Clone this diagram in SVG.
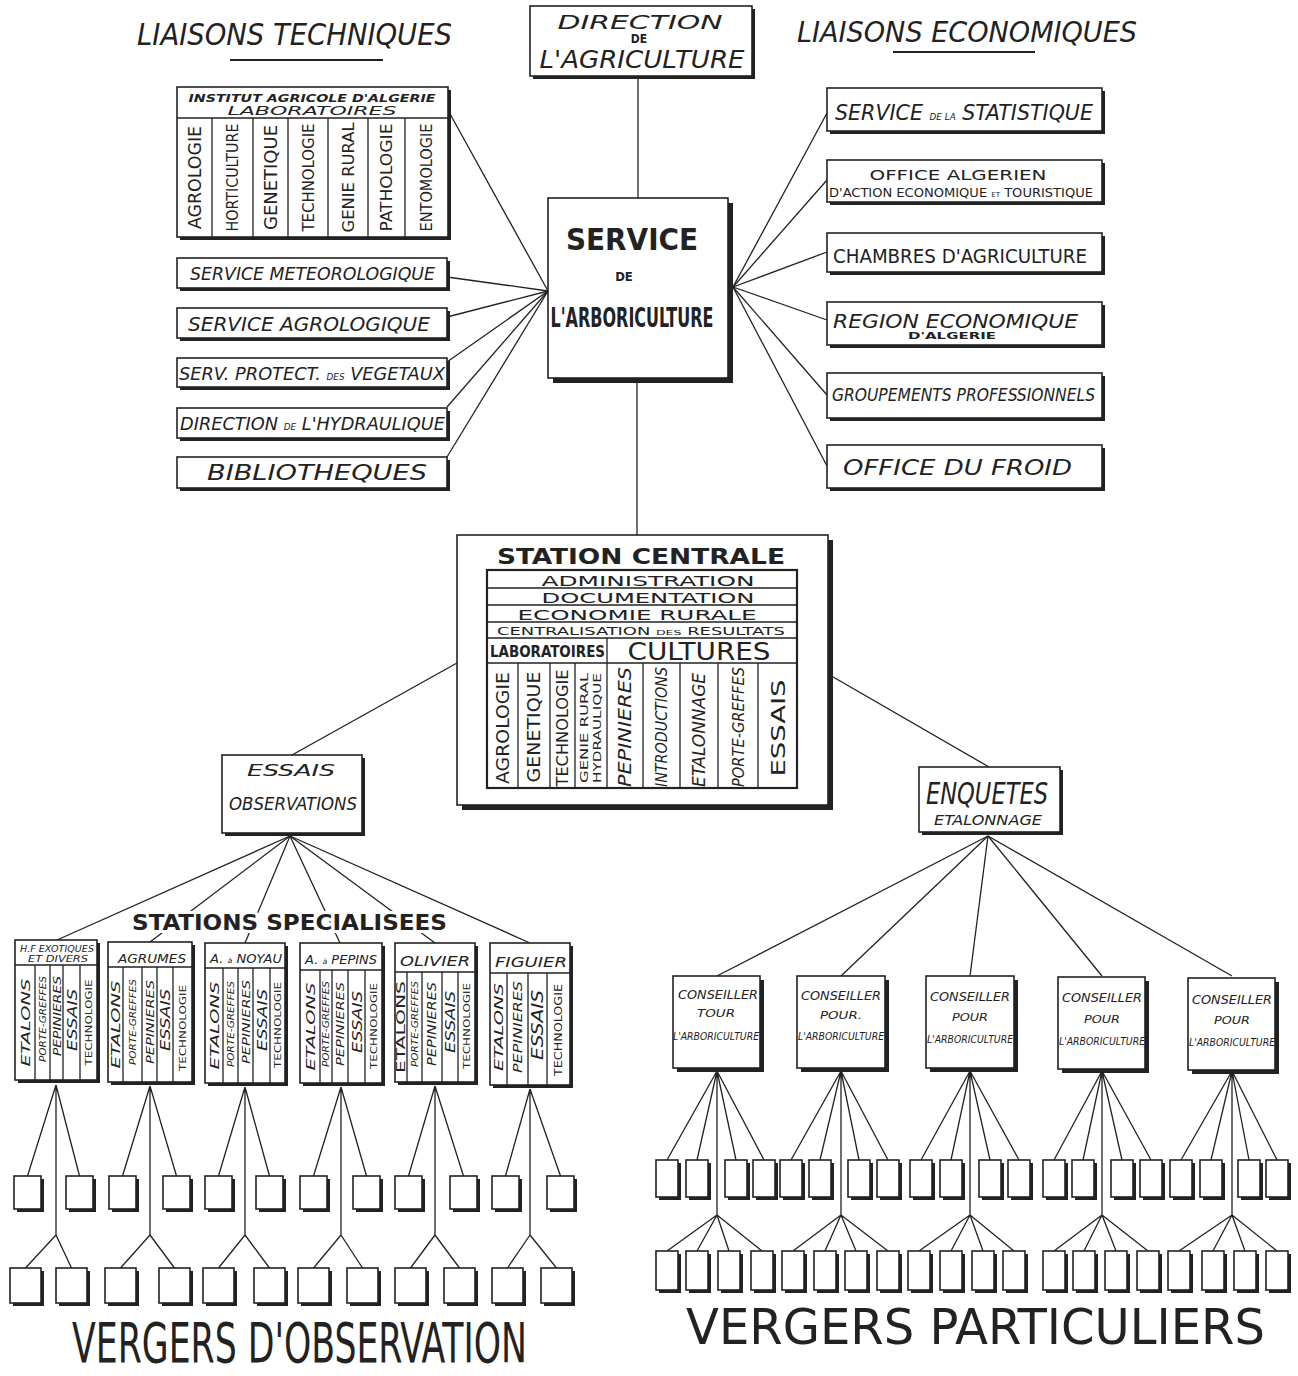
<svg xmlns="http://www.w3.org/2000/svg" width="1298" height="1376" viewBox="0 0 1298 1376">
<style>
.bg{fill:#fff}
.bx{fill:#fff;stroke:#222;stroke-width:1.6}
.bt{fill:none;stroke:#222;stroke-width:2.2}
.sh{fill:#222}
.ln{stroke:#222;stroke-width:1.3;fill:none}
.dv{stroke:#222;stroke-width:1.3}
.t{font-family:"DejaVu Sans Condensed","DejaVu Sans","Liberation Sans",sans-serif;fill:#222}
.it{font-style:italic}
.b{font-weight:bold}
.c{text-anchor:middle}
.v{text-anchor:middle;dominant-baseline:central}
.halo{paint-order:stroke;stroke:#fff;stroke-width:6;stroke-linejoin:round}
</style>
<rect class="bg" x="0" y="0" width="1298" height="1376"/>

<g id="connectors">
<line class="ln" x1="638" y1="76" x2="638" y2="198"/>
<line class="ln" x1="637" y1="380" x2="637" y2="535"/>
<line class="ln" x1="449" y1="112" x2="548" y2="291"/>
<line class="ln" x1="447" y1="277" x2="548" y2="291"/>
<line class="ln" x1="447" y1="317" x2="548" y2="291"/>
<line class="ln" x1="447" y1="362" x2="548" y2="291"/>
<line class="ln" x1="447" y1="407" x2="548" y2="291"/>
<line class="ln" x1="447" y1="457" x2="548" y2="291"/>
<line class="ln" x1="733" y1="287" x2="827" y2="113"/>
<line class="ln" x1="733" y1="287" x2="827" y2="180"/>
<line class="ln" x1="733" y1="287" x2="827" y2="252"/>
<line class="ln" x1="733" y1="287" x2="827" y2="320"/>
<line class="ln" x1="733" y1="287" x2="827" y2="395"/>
<line class="ln" x1="733" y1="287" x2="827" y2="466"/>
<line class="ln" x1="457" y1="663" x2="292" y2="755"/>
<line class="ln" x1="828" y1="674" x2="989" y2="767"/>
<line class="ln" x1="290" y1="836" x2="57" y2="940"/>
<line class="ln" x1="290" y1="836" x2="150" y2="942"/>
<line class="ln" x1="290" y1="836" x2="245" y2="943"/>
<line class="ln" x1="290" y1="836" x2="340" y2="943"/>
<line class="ln" x1="290" y1="836" x2="435" y2="943"/>
<line class="ln" x1="290" y1="836" x2="530" y2="943"/>
<line class="ln" x1="988" y1="836" x2="717" y2="976"/>
<line class="ln" x1="988" y1="836" x2="841" y2="976"/>
<line class="ln" x1="988" y1="836" x2="970" y2="976"/>
<line class="ln" x1="988" y1="836" x2="1102" y2="976"/>
<line class="ln" x1="988" y1="836" x2="1232" y2="976"/>
<path class="ln" d="M56 1085L27.5 1176M56 1085L79.5 1176M56 1085V1235M56 1235L25.5 1268M56 1235L71.5 1268"/>
<path class="ln" d="M150 1086L122.5 1176M150 1086L176.5 1176M150 1086V1235M150 1235L120.5 1268M150 1235L174.5 1268"/>
<path class="ln" d="M245 1087L218.5 1176M245 1087L269.5 1176M245 1087V1235M245 1235L218.5 1268M245 1235L269.5 1268"/>
<path class="ln" d="M341 1087L313.5 1176M341 1087L366.5 1176M341 1087V1235M341 1235L313.5 1268M341 1235L362.5 1268"/>
<path class="ln" d="M435 1086L408.5 1176M435 1086L463.5 1176M435 1086V1235M435 1235L410.5 1268M435 1235L459.5 1268"/>
<path class="ln" d="M530 1089L505.5 1176M530 1089L560.5 1176M530 1089V1235M530 1235L507.5 1268M530 1235L556.5 1268"/>
<path class="ln" d="M717 1071L667 1160M717 1071L697 1160M717 1071L736 1160M717 1071L764 1160M717 1071V1215M717 1215L667 1251M717 1215L697 1251M717 1215L729 1251M717 1215L762 1251"/>
<path class="ln" d="M841 1071L791 1160M841 1071L820 1160M841 1071L859 1160M841 1071L888 1160M841 1071V1215M841 1215L793 1251M841 1215L825 1251M841 1215L856 1251M841 1215L888 1251"/>
<path class="ln" d="M970 1071L921 1160M970 1071L951 1160M970 1071L990 1160M970 1071L1019 1160M970 1071V1215M970 1215L919 1251M970 1215L951 1251M970 1215L983 1251M970 1215L1014 1251"/>
<path class="ln" d="M1102 1071L1054 1160M1102 1071L1083 1160M1102 1071L1122 1160M1102 1071L1151 1160M1102 1071V1215M1102 1215L1054 1251M1102 1215L1084 1251M1102 1215L1116 1251M1102 1215L1148 1251"/>
<path class="ln" d="M1232 1071L1181 1160M1232 1071L1211 1160M1232 1071L1249 1160M1232 1071L1277 1160M1232 1071V1215M1232 1215L1179 1251M1232 1215L1213 1251M1232 1215L1245 1251M1232 1215L1277 1251"/>
</g>

<g id="heading-techniques">
<text class="t it" x="137" y="45" font-size="31" textLength="315" lengthAdjust="spacingAndGlyphs">LIAISONS TECHNIQUES</text>
<line x1="230" y1="60" x2="383" y2="60" stroke="#222" stroke-width="2.2"/>
</g>
<g id="heading-economiques">
<text class="t it" x="797" y="42" font-size="29" textLength="340" lengthAdjust="spacingAndGlyphs">LIAISONS ECONOMIQUES</text>
<line x1="893" y1="52" x2="1035" y2="52" stroke="#222" stroke-width="2.2"/>
</g>

<g id="direction-agriculture">
<rect class="sh" x="533" y="9" width="222" height="70"/>
<rect class="bx" x="530" y="6" width="222" height="70"/>
<text class="t it c" x="640" y="29" font-size="20" textLength="165" lengthAdjust="spacingAndGlyphs">DIRECTION</text>
<text class="t c b" x="639" y="43" font-size="12">DE</text>
<text class="t it c" x="642" y="68" font-size="24" textLength="205" lengthAdjust="spacingAndGlyphs">L'AGRICULTURE</text>
</g>

<g id="service-arboriculture">
<rect class="sh" x="553" y="203" width="180" height="180"/>
<rect class="bx" x="548" y="198" width="180" height="180"/>
<text class="t c b" x="632" y="250" font-size="31" textLength="132" lengthAdjust="spacingAndGlyphs">SERVICE</text>
<text class="t c b" x="624" y="281" font-size="13">DE</text>
<text class="t c b" x="632" y="327" font-size="26" textLength="163" lengthAdjust="spacingAndGlyphs">L'ARBORICULTURE</text>
</g>

<g id="institut-agricole">
<rect class="sh" x="180" y="90" width="271" height="150"/>
<rect class="bx" x="177" y="87" width="271" height="150"/>
<line class="dv" x1="177" y1="118" x2="448" y2="118"/>
<path class="dv" d="M212 118V237M253 118V237M288 118V237M328 118V237M368 118V237M405 118V237"/>
<text class="t it b c" x="312" y="102" font-size="10" textLength="247" lengthAdjust="spacingAndGlyphs">INSTITUT AGRICOLE D'ALGERIE</text>
<text class="t it c" x="312" y="115" font-size="12" textLength="169" lengthAdjust="spacingAndGlyphs">LABORATOIRES</text>
<text class="t v" transform="translate(194.5,177.5) rotate(-90)" font-size="17" textLength="103" lengthAdjust="spacingAndGlyphs">AGROLOGIE</text>
<text class="t v" transform="translate(232.5,177.5) rotate(-90)" font-size="16" textLength="108" lengthAdjust="spacingAndGlyphs">HORTICULTURE</text>
<text class="t v" transform="translate(270.5,177.5) rotate(-90)" font-size="17" textLength="105" lengthAdjust="spacingAndGlyphs">GENETIQUE</text>
<text class="t v" transform="translate(308,177.5) rotate(-90)" font-size="16" textLength="108" lengthAdjust="spacingAndGlyphs">TECHNOLOGIE</text>
<text class="t v" transform="translate(348,177.5) rotate(-90)" font-size="16" textLength="110" lengthAdjust="spacingAndGlyphs">GENIE RURAL</text>
<text class="t v" transform="translate(386.5,177.5) rotate(-90)" font-size="16" textLength="108" lengthAdjust="spacingAndGlyphs">PATHOLOGIE</text>
<text class="t v" transform="translate(426.5,177.5) rotate(-90)" font-size="16" textLength="108" lengthAdjust="spacingAndGlyphs">ENTOMOLOGIE</text>
</g>

<g id="service-meteorologique">
<rect class="sh" x="180" y="261" width="270" height="30"/>
<rect class="bx" x="177" y="258" width="270" height="30"/>
<text class="t it" x="190" y="280" font-size="17" textLength="245" lengthAdjust="spacingAndGlyphs">SERVICE METEOROLOGIQUE</text>
</g>
<g id="service-agrologique">
<rect class="sh" x="180" y="311" width="270" height="30"/>
<rect class="bx" x="177" y="308" width="270" height="30"/>
<text class="t it" x="188" y="331" font-size="20" textLength="242" lengthAdjust="spacingAndGlyphs">SERVICE AGROLOGIQUE</text>
</g>
<g id="serv-protect-vegetaux">
<rect class="sh" x="180" y="361" width="270" height="29"/>
<rect class="bx" x="177" y="358" width="270" height="29"/>
<text class="t it" x="179" y="380" font-size="18" textLength="266" lengthAdjust="spacingAndGlyphs">SERV. PROTECT. <tspan font-size="9">DES</tspan> VEGETAUX</text>
</g>
<g id="direction-hydraulique">
<rect class="sh" x="180" y="411" width="270" height="30"/>
<rect class="bx" x="177" y="408" width="270" height="30"/>
<text class="t it" x="180" y="430" font-size="18" textLength="265" lengthAdjust="spacingAndGlyphs">DIRECTION <tspan font-size="9">DE</tspan> L'HYDRAULIQUE</text>
</g>
<g id="bibliotheques">
<rect class="sh" x="180" y="460" width="270" height="31"/>
<rect class="bx" x="177" y="457" width="270" height="31"/>
<text class="t it" x="207" y="480" font-size="21" textLength="220" lengthAdjust="spacingAndGlyphs">BIBLIOTHEQUES</text>
</g>

<g id="service-statistique">
<rect class="sh" x="830" y="91" width="275" height="43"/>
<rect class="bx" x="827" y="88" width="275" height="43"/>
<text class="t it" x="835" y="120" font-size="21" textLength="258" lengthAdjust="spacingAndGlyphs">SERVICE <tspan font-size="9">DE LA</tspan> STATISTIQUE</text>
</g>
<g id="office-algerien">
<rect class="sh" x="830" y="163" width="275" height="42"/>
<rect class="bx" x="827" y="160" width="275" height="42"/>
<text class="t c" x="958" y="180" font-size="14" textLength="177" lengthAdjust="spacingAndGlyphs">OFFICE ALGERIEN</text>
<text class="t" x="829" y="197" font-size="13" textLength="264" lengthAdjust="spacingAndGlyphs">D'ACTION ECONOMIQUE <tspan font-size="7">ET</tspan> TOURISTIQUE</text>
</g>
<g id="chambres-agriculture">
<rect class="sh" x="830" y="236" width="275" height="39"/>
<rect class="bx" x="827" y="233" width="275" height="39"/>
<text class="t" x="833" y="263" font-size="20" textLength="254" lengthAdjust="spacingAndGlyphs">CHAMBRES D'AGRICULTURE</text>
</g>
<g id="region-economique">
<rect class="sh" x="830" y="305" width="275" height="43"/>
<rect class="bx" x="827" y="302" width="275" height="43"/>
<text class="t it" x="833" y="328" font-size="20" textLength="245" lengthAdjust="spacingAndGlyphs">REGION ECONOMIQUE</text>
<text class="t b c" x="952" y="339" font-size="8" textLength="88" lengthAdjust="spacingAndGlyphs">D'ALGERIE</text>
</g>
<g id="groupements-professionnels">
<rect class="sh" x="830" y="376" width="275" height="45"/>
<rect class="bx" x="827" y="373" width="275" height="45"/>
<text class="t it" x="832" y="401" font-size="17" textLength="263" lengthAdjust="spacingAndGlyphs">GROUPEMENTS PROFESSIONNELS</text>
</g>
<g id="office-froid">
<rect class="sh" x="830" y="448" width="275" height="43"/>
<rect class="bx" x="827" y="445" width="275" height="43"/>
<text class="t it" x="843" y="475" font-size="22" textLength="229" lengthAdjust="spacingAndGlyphs">OFFICE DU FROID</text>
</g>

<g id="station-centrale">
<rect class="sh" x="462" y="540" width="371" height="270"/>
<rect class="bx" x="457" y="535" width="371" height="270"/>
<text class="t b c" x="641" y="564" font-size="21" textLength="288" lengthAdjust="spacingAndGlyphs">STATION CENTRALE</text>
<rect class="bt" x="487" y="570" width="310" height="218"/>
<path class="dv" d="M487 588H797M487 605H797M487 622H797M487 638H797M487 663H797M607 638V788M518 663V788M550 663V788M575 663V788M643 663V788M680 663V788M718 663V788M758 663V788"/>
<text class="t c" x="648" y="586" font-size="14" textLength="213" lengthAdjust="spacingAndGlyphs">ADMINISTRATION</text>
<text class="t c" x="648" y="603" font-size="14" textLength="213" lengthAdjust="spacingAndGlyphs">DOCUMENTATION</text>
<text class="t c" x="637" y="620" font-size="14" textLength="239" lengthAdjust="spacingAndGlyphs">ECONOMIE RURALE</text>
<text class="t c" x="641" y="635" font-size="10" textLength="288" lengthAdjust="spacingAndGlyphs">CENTRALISATION <tspan font-size="7">DES</tspan> RESULTATS</text>
<text class="t b" x="490" y="657" font-size="15" textLength="115" lengthAdjust="spacingAndGlyphs">LABORATOIRES</text>
<text class="t c" x="699" y="660" font-size="24" textLength="143" lengthAdjust="spacingAndGlyphs">CULTURES</text>
<text class="t v" transform="translate(502.5,728) rotate(-90)" font-size="17" textLength="112" lengthAdjust="spacingAndGlyphs">AGROLOGIE</text>
<text class="t v" transform="translate(534,727) rotate(-90)" font-size="17" textLength="111" lengthAdjust="spacingAndGlyphs">GENETIQUE</text>
<text class="t v" transform="translate(562.5,728) rotate(-90)" font-size="15" textLength="117" lengthAdjust="spacingAndGlyphs">TECHNOLOGIE</text>
<text class="t v" transform="translate(584,728) rotate(-90)" font-size="10" textLength="110" lengthAdjust="spacingAndGlyphs">GENIE RURAL</text>
<text class="t v" transform="translate(597,728) rotate(-90)" font-size="10" textLength="110" lengthAdjust="spacingAndGlyphs">HYDRAULIQUE</text>
<text class="t it v" transform="translate(625,727) rotate(-90)" font-size="17" textLength="120" lengthAdjust="spacingAndGlyphs">PEPINIERES</text>
<text class="t it v" transform="translate(661.5,727) rotate(-90)" font-size="16" textLength="120" lengthAdjust="spacingAndGlyphs">INTRODUCTIONS</text>
<text class="t it v" transform="translate(699,730) rotate(-90)" font-size="17" textLength="114" lengthAdjust="spacingAndGlyphs">ETALONNAGE</text>
<text class="t it v" transform="translate(738,727) rotate(-90)" font-size="16" textLength="120" lengthAdjust="spacingAndGlyphs">PORTE-GREFFES</text>
<text class="t v" transform="translate(777.5,728) rotate(-90)" font-size="20" textLength="97" lengthAdjust="spacingAndGlyphs">ESSAIS</text>
</g>

<g id="essais-observations">
<rect class="sh" x="225" y="758" width="140" height="78"/>
<rect class="bx" x="222" y="755" width="140" height="78"/>
<text class="t it c" x="291" y="776" font-size="16" textLength="88" lengthAdjust="spacingAndGlyphs">ESSAIS</text>
<text class="t it c" x="293" y="810" font-size="17" textLength="128" lengthAdjust="spacingAndGlyphs">OBSERVATIONS</text>
</g>

<g id="enquetes-etalonnage">
<rect class="sh" x="922" y="770" width="141" height="65"/>
<rect class="bx" x="919" y="767" width="141" height="65"/>
<text class="t it c" x="987" y="804" font-size="30" textLength="122" lengthAdjust="spacingAndGlyphs">ENQUETES</text>
<text class="t it c" x="988" y="825" font-size="14" textLength="108" lengthAdjust="spacingAndGlyphs">ETALONNAGE</text>
</g>

<g id="label-stations-specialisees">
<text class="t b halo" x="132" y="930" font-size="22" textLength="315" lengthAdjust="spacingAndGlyphs">STATIONS  SPECIALISEES</text>
</g>

<g id="station-exotiques">
<rect class="sh" x="18" y="943" width="82" height="140"/>
<rect class="bx" x="15" y="940" width="82" height="140"/>
<path class="dv" d="M15 965H97M35 965V1080M50 965V1080M63 965V1080M80 965V1080"/>
<text class="t it c" x="57" y="952" font-size="8.5" textLength="74" lengthAdjust="spacingAndGlyphs">H.F EXOTIQUES</text>
<text class="t it c" x="58" y="962" font-size="9" textLength="60" lengthAdjust="spacingAndGlyphs">ET DIVERS</text>
<text class="t it v" transform="translate(25,1022.5) rotate(-90)" font-size="13" textLength="88" lengthAdjust="spacingAndGlyphs">ETALONS</text>
<text class="t it v" transform="translate(42.5,1019) rotate(-90)" font-size="9.5" textLength="86" lengthAdjust="spacingAndGlyphs">PORTE-GREFFES</text>
<text class="t it v" transform="translate(56.5,1016) rotate(-90)" font-size="10.5" textLength="80" lengthAdjust="spacingAndGlyphs">PEPINIERES</text>
<text class="t it v" transform="translate(71.5,1020) rotate(-90)" font-size="14" textLength="62" lengthAdjust="spacingAndGlyphs">ESSAIS</text>
<text class="t v" transform="translate(88.5,1022.5) rotate(-90)" font-size="9" textLength="86" lengthAdjust="spacingAndGlyphs">TECHNOLOGIE</text>
</g>
<g id="station-agrumes">
<rect class="sh" x="111" y="945" width="84" height="140"/>
<rect class="bx" x="108" y="942" width="84" height="140"/>
<path class="dv" d="M108 967H192M123 967V1082M142 967V1082M157 967V1082M173 967V1082"/>
<text class="t it c" x="152" y="963" font-size="13" textLength="68" lengthAdjust="spacingAndGlyphs">AGRUMES</text>
<text class="t it v" transform="translate(115.5,1024.5) rotate(-90)" font-size="13" textLength="88" lengthAdjust="spacingAndGlyphs">ETALONS</text>
<text class="t it v" transform="translate(132.5,1022) rotate(-90)" font-size="9.5" textLength="86" lengthAdjust="spacingAndGlyphs">PORTE-GREFFES</text>
<text class="t it v" transform="translate(149.5,1022) rotate(-90)" font-size="10.5" textLength="84" lengthAdjust="spacingAndGlyphs">PEPINIERES</text>
<text class="t it v" transform="translate(165,1020) rotate(-90)" font-size="14" textLength="62" lengthAdjust="spacingAndGlyphs">ESSAIS</text>
<text class="t v" transform="translate(182.5,1028) rotate(-90)" font-size="9" textLength="86" lengthAdjust="spacingAndGlyphs">TECHNOLOGIE</text>
</g>
<g id="station-noyau">
<rect class="sh" x="208" y="946" width="80" height="140"/>
<rect class="bx" x="205" y="943" width="80" height="140"/>
<path class="dv" d="M205 968H285M223 968V1083M238 968V1083M253 968V1083M270 968V1083"/>
<text class="t it c" x="246" y="963" font-size="11.5" textLength="72" lengthAdjust="spacingAndGlyphs">A. <tspan font-size="7">à</tspan> NOYAU</text>
<text class="t it v" transform="translate(214,1025.5) rotate(-90)" font-size="13" textLength="88" lengthAdjust="spacingAndGlyphs">ETALONS</text>
<text class="t it v" transform="translate(230.5,1024) rotate(-90)" font-size="9.5" textLength="86" lengthAdjust="spacingAndGlyphs">PORTE-GREFFES</text>
<text class="t it v" transform="translate(245.5,1022) rotate(-90)" font-size="10.5" textLength="84" lengthAdjust="spacingAndGlyphs">PEPINIERES</text>
<text class="t it v" transform="translate(261.5,1020) rotate(-90)" font-size="14" textLength="62" lengthAdjust="spacingAndGlyphs">ESSAIS</text>
<text class="t v" transform="translate(277.5,1025) rotate(-90)" font-size="9" textLength="86" lengthAdjust="spacingAndGlyphs">TECHNOLOGIE</text>
</g>
<g id="station-pepins">
<rect class="sh" x="303" y="946" width="82" height="140"/>
<rect class="bx" x="300" y="943" width="82" height="140"/>
<path class="dv" d="M300 970H382M320 970V1083M332 970V1083M348 970V1083M365 970V1083"/>
<text class="t it c" x="341" y="964" font-size="11.5" textLength="72" lengthAdjust="spacingAndGlyphs">A. <tspan font-size="7">à</tspan> PEPINS</text>
<text class="t it v" transform="translate(310,1026.5) rotate(-90)" font-size="13" textLength="88" lengthAdjust="spacingAndGlyphs">ETALONS</text>
<text class="t it v" transform="translate(326,1024) rotate(-90)" font-size="9" textLength="86" lengthAdjust="spacingAndGlyphs">PORTE-GREFFES</text>
<text class="t it v" transform="translate(340,1024) rotate(-90)" font-size="10.5" textLength="84" lengthAdjust="spacingAndGlyphs">PEPINIERES</text>
<text class="t it v" transform="translate(356.5,1022) rotate(-90)" font-size="14" textLength="62" lengthAdjust="spacingAndGlyphs">ESSAIS</text>
<text class="t v" transform="translate(373.5,1026) rotate(-90)" font-size="9" textLength="86" lengthAdjust="spacingAndGlyphs">TECHNOLOGIE</text>
</g>
<g id="station-olivier">
<rect class="sh" x="398" y="946" width="80" height="139"/>
<rect class="bx" x="395" y="943" width="80" height="139"/>
<path class="dv" d="M395 972H475M407 972V1082M422 972V1082M442 972V1082M458 972V1082"/>
<text class="t it c" x="435" y="966" font-size="14" textLength="70" lengthAdjust="spacingAndGlyphs">OLIVIER</text>
<text class="t v" transform="translate(401,1027) rotate(-90)" font-size="12" textLength="92" lengthAdjust="spacingAndGlyphs">ETALONS</text>
<text class="t it v" transform="translate(414.5,1024) rotate(-90)" font-size="9.5" textLength="86" lengthAdjust="spacingAndGlyphs">PORTE-GREFFES</text>
<text class="t it v" transform="translate(432,1024) rotate(-90)" font-size="12" textLength="84" lengthAdjust="spacingAndGlyphs">PEPINIERES</text>
<text class="t it v" transform="translate(450,1022) rotate(-90)" font-size="14" textLength="62" lengthAdjust="spacingAndGlyphs">ESSAIS</text>
<text class="t v" transform="translate(466.5,1026) rotate(-90)" font-size="9" textLength="86" lengthAdjust="spacingAndGlyphs">TECHNOLOGIE</text>
</g>
<g id="station-figuier">
<rect class="sh" x="493" y="946" width="80" height="142"/>
<rect class="bx" x="490" y="943" width="80" height="142"/>
<path class="dv" d="M490 973H570M507 973V1085M528 973V1085M547 973V1085"/>
<text class="t it c" x="531" y="967" font-size="14" textLength="72" lengthAdjust="spacingAndGlyphs">FIGUIER</text>
<text class="t it v" transform="translate(498.5,1027) rotate(-90)" font-size="12" textLength="88" lengthAdjust="spacingAndGlyphs">ETALONS</text>
<text class="t it v" transform="translate(517.5,1027) rotate(-90)" font-size="12" textLength="92" lengthAdjust="spacingAndGlyphs">PEPINIERES</text>
<text class="t it v" transform="translate(537.5,1025) rotate(-90)" font-size="15" textLength="70" lengthAdjust="spacingAndGlyphs">ESSAIS</text>
<text class="t v" transform="translate(558.5,1030) rotate(-90)" font-size="10" textLength="92" lengthAdjust="spacingAndGlyphs">TECHNOLOGIE</text>
</g>

<g id="conseiller-1">
<rect class="sh" x="677" y="980" width="87" height="92"/>
<rect class="bx" x="673" y="976" width="87" height="92"/>
<text class="t it c" x="718" y="999" font-size="13" textLength="80" lengthAdjust="spacingAndGlyphs">CONSEILLER</text>
<text class="t it c" x="716" y="1017" font-size="10" textLength="38" lengthAdjust="spacingAndGlyphs">TOUR</text>
<text class="t it c" x="716" y="1040" font-size="11" textLength="86" lengthAdjust="spacingAndGlyphs">L'ARBORICULTURE</text>
</g>
<g id="conseiller-2">
<rect class="sh" x="801" y="980" width="88" height="92"/>
<rect class="bx" x="797" y="976" width="88" height="92"/>
<text class="t it c" x="841" y="1000" font-size="13" textLength="80" lengthAdjust="spacingAndGlyphs">CONSEILLER</text>
<text class="t it c" x="841" y="1019" font-size="10" textLength="42" lengthAdjust="spacingAndGlyphs">POUR.</text>
<text class="t it c" x="841" y="1040" font-size="11" textLength="86" lengthAdjust="spacingAndGlyphs">L'ARBORICULTURE</text>
</g>
<g id="conseiller-3">
<rect class="sh" x="930" y="980" width="88" height="92"/>
<rect class="bx" x="926" y="976" width="88" height="92"/>
<text class="t it c" x="970" y="1001" font-size="13" textLength="80" lengthAdjust="spacingAndGlyphs">CONSEILLER</text>
<text class="t it c" x="970" y="1021" font-size="10" textLength="36" lengthAdjust="spacingAndGlyphs">POUR</text>
<text class="t it c" x="970" y="1043" font-size="11" textLength="86" lengthAdjust="spacingAndGlyphs">L'ARBORICULTURE</text>
</g>
<g id="conseiller-4">
<rect class="sh" x="1062" y="981" width="87" height="92"/>
<rect class="bx" x="1058" y="977" width="87" height="92"/>
<text class="t it c" x="1102" y="1002" font-size="13" textLength="80" lengthAdjust="spacingAndGlyphs">CONSEILLER</text>
<text class="t it c" x="1102" y="1023" font-size="10" textLength="36" lengthAdjust="spacingAndGlyphs">POUR</text>
<text class="t it c" x="1102" y="1045" font-size="11" textLength="86" lengthAdjust="spacingAndGlyphs">L'ARBORICULTURE</text>
</g>
<g id="conseiller-5">
<rect class="sh" x="1192" y="982" width="87" height="92"/>
<rect class="bx" x="1188" y="978" width="87" height="92"/>
<text class="t it c" x="1232" y="1004" font-size="13" textLength="80" lengthAdjust="spacingAndGlyphs">CONSEILLER</text>
<text class="t it c" x="1232" y="1024" font-size="10" textLength="36" lengthAdjust="spacingAndGlyphs">POUR</text>
<text class="t it c" x="1232" y="1046" font-size="11" textLength="86" lengthAdjust="spacingAndGlyphs">L'ARBORICULTURE</text>
</g>

<g id="vergers-observation-row1">
<rect class="sh" x="17" y="1179" width="27" height="33"/><rect class="bx" x="14" y="1176" width="27" height="33"/>
<rect class="sh" x="69" y="1179" width="27" height="33"/><rect class="bx" x="66" y="1176" width="27" height="33"/>
<rect class="sh" x="112" y="1179" width="27" height="33"/><rect class="bx" x="109" y="1176" width="27" height="33"/>
<rect class="sh" x="166" y="1179" width="27" height="33"/><rect class="bx" x="163" y="1176" width="27" height="33"/>
<rect class="sh" x="208" y="1179" width="27" height="33"/><rect class="bx" x="205" y="1176" width="27" height="33"/>
<rect class="sh" x="259" y="1179" width="27" height="33"/><rect class="bx" x="256" y="1176" width="27" height="33"/>
<rect class="sh" x="303" y="1179" width="27" height="33"/><rect class="bx" x="300" y="1176" width="27" height="33"/>
<rect class="sh" x="356" y="1179" width="27" height="33"/><rect class="bx" x="353" y="1176" width="27" height="33"/>
<rect class="sh" x="398" y="1179" width="27" height="33"/><rect class="bx" x="395" y="1176" width="27" height="33"/>
<rect class="sh" x="453" y="1179" width="27" height="33"/><rect class="bx" x="450" y="1176" width="27" height="33"/>
<rect class="sh" x="495" y="1179" width="27" height="33"/><rect class="bx" x="492" y="1176" width="27" height="33"/>
<rect class="sh" x="550" y="1179" width="27" height="33"/><rect class="bx" x="547" y="1176" width="27" height="33"/>
</g>
<g id="vergers-observation-row2">
<rect class="sh" x="13" y="1271" width="31" height="35"/><rect class="bx" x="10" y="1268" width="31" height="35"/>
<rect class="sh" x="59" y="1271" width="31" height="35"/><rect class="bx" x="56" y="1268" width="31" height="35"/>
<rect class="sh" x="108" y="1271" width="31" height="35"/><rect class="bx" x="105" y="1268" width="31" height="35"/>
<rect class="sh" x="162" y="1271" width="31" height="35"/><rect class="bx" x="159" y="1268" width="31" height="35"/>
<rect class="sh" x="206" y="1271" width="31" height="35"/><rect class="bx" x="203" y="1268" width="31" height="35"/>
<rect class="sh" x="257" y="1271" width="31" height="35"/><rect class="bx" x="254" y="1268" width="31" height="35"/>
<rect class="sh" x="301" y="1271" width="31" height="35"/><rect class="bx" x="298" y="1268" width="31" height="35"/>
<rect class="sh" x="350" y="1271" width="31" height="35"/><rect class="bx" x="347" y="1268" width="31" height="35"/>
<rect class="sh" x="398" y="1271" width="31" height="35"/><rect class="bx" x="395" y="1268" width="31" height="35"/>
<rect class="sh" x="447" y="1271" width="31" height="35"/><rect class="bx" x="444" y="1268" width="31" height="35"/>
<rect class="sh" x="495" y="1271" width="31" height="35"/><rect class="bx" x="492" y="1268" width="31" height="35"/>
<rect class="sh" x="544" y="1271" width="31" height="35"/><rect class="bx" x="541" y="1268" width="31" height="35"/>
</g>

<g id="vergers-particuliers-row1">
<rect class="sh" x="659" y="1163" width="22" height="37"/><rect class="bx" x="656" y="1160" width="22" height="37"/>
<rect class="sh" x="689" y="1163" width="22" height="37"/><rect class="bx" x="686" y="1160" width="22" height="37"/>
<rect class="sh" x="728" y="1163" width="22" height="37"/><rect class="bx" x="725" y="1160" width="22" height="37"/>
<rect class="sh" x="756" y="1163" width="22" height="37"/><rect class="bx" x="753" y="1160" width="22" height="37"/>
<rect class="sh" x="783" y="1163" width="22" height="37"/><rect class="bx" x="780" y="1160" width="22" height="37"/>
<rect class="sh" x="812" y="1163" width="22" height="37"/><rect class="bx" x="809" y="1160" width="22" height="37"/>
<rect class="sh" x="851" y="1163" width="22" height="37"/><rect class="bx" x="848" y="1160" width="22" height="37"/>
<rect class="sh" x="880" y="1163" width="22" height="37"/><rect class="bx" x="877" y="1160" width="22" height="37"/>
<rect class="sh" x="913" y="1163" width="22" height="37"/><rect class="bx" x="910" y="1160" width="22" height="37"/>
<rect class="sh" x="943" y="1163" width="22" height="37"/><rect class="bx" x="940" y="1160" width="22" height="37"/>
<rect class="sh" x="982" y="1163" width="22" height="37"/><rect class="bx" x="979" y="1160" width="22" height="37"/>
<rect class="sh" x="1011" y="1163" width="22" height="37"/><rect class="bx" x="1008" y="1160" width="22" height="37"/>
<rect class="sh" x="1046" y="1163" width="22" height="37"/><rect class="bx" x="1043" y="1160" width="22" height="37"/>
<rect class="sh" x="1075" y="1163" width="22" height="37"/><rect class="bx" x="1072" y="1160" width="22" height="37"/>
<rect class="sh" x="1114" y="1163" width="22" height="37"/><rect class="bx" x="1111" y="1160" width="22" height="37"/>
<rect class="sh" x="1143" y="1163" width="22" height="37"/><rect class="bx" x="1140" y="1160" width="22" height="37"/>
<rect class="sh" x="1173" y="1163" width="22" height="37"/><rect class="bx" x="1170" y="1160" width="22" height="37"/>
<rect class="sh" x="1203" y="1163" width="22" height="37"/><rect class="bx" x="1200" y="1160" width="22" height="37"/>
<rect class="sh" x="1241" y="1163" width="22" height="37"/><rect class="bx" x="1238" y="1160" width="22" height="37"/>
<rect class="sh" x="1269" y="1163" width="22" height="37"/><rect class="bx" x="1266" y="1160" width="22" height="37"/>
</g>
<g id="vergers-particuliers-row2">
<rect class="sh" x="659" y="1254" width="22" height="39"/><rect class="bx" x="656" y="1251" width="22" height="39"/>
<rect class="sh" x="689" y="1254" width="22" height="39"/><rect class="bx" x="686" y="1251" width="22" height="39"/>
<rect class="sh" x="721" y="1254" width="22" height="39"/><rect class="bx" x="718" y="1251" width="22" height="39"/>
<rect class="sh" x="754" y="1254" width="22" height="39"/><rect class="bx" x="751" y="1251" width="22" height="39"/>
<rect class="sh" x="785" y="1254" width="22" height="39"/><rect class="bx" x="782" y="1251" width="22" height="39"/>
<rect class="sh" x="817" y="1254" width="22" height="39"/><rect class="bx" x="814" y="1251" width="22" height="39"/>
<rect class="sh" x="848" y="1254" width="22" height="39"/><rect class="bx" x="845" y="1251" width="22" height="39"/>
<rect class="sh" x="880" y="1254" width="22" height="39"/><rect class="bx" x="877" y="1251" width="22" height="39"/>
<rect class="sh" x="911" y="1254" width="22" height="39"/><rect class="bx" x="908" y="1251" width="22" height="39"/>
<rect class="sh" x="943" y="1254" width="22" height="39"/><rect class="bx" x="940" y="1251" width="22" height="39"/>
<rect class="sh" x="975" y="1254" width="22" height="39"/><rect class="bx" x="972" y="1251" width="22" height="39"/>
<rect class="sh" x="1006" y="1254" width="22" height="39"/><rect class="bx" x="1003" y="1251" width="22" height="39"/>
<rect class="sh" x="1046" y="1254" width="22" height="39"/><rect class="bx" x="1043" y="1251" width="22" height="39"/>
<rect class="sh" x="1076" y="1254" width="22" height="39"/><rect class="bx" x="1073" y="1251" width="22" height="39"/>
<rect class="sh" x="1108" y="1254" width="22" height="39"/><rect class="bx" x="1105" y="1251" width="22" height="39"/>
<rect class="sh" x="1140" y="1254" width="22" height="39"/><rect class="bx" x="1137" y="1251" width="22" height="39"/>
<rect class="sh" x="1171" y="1254" width="22" height="39"/><rect class="bx" x="1168" y="1251" width="22" height="39"/>
<rect class="sh" x="1205" y="1254" width="22" height="39"/><rect class="bx" x="1202" y="1251" width="22" height="39"/>
<rect class="sh" x="1237" y="1254" width="22" height="39"/><rect class="bx" x="1234" y="1251" width="22" height="39"/>
<rect class="sh" x="1269" y="1254" width="22" height="39"/><rect class="bx" x="1266" y="1251" width="22" height="39"/>
</g>

<g id="label-vergers-observation">
<text class="t" x="72" y="1362" font-size="56" textLength="455" lengthAdjust="spacingAndGlyphs">VERGERS D'OBSERVATION</text>
</g>
<g id="label-vergers-particuliers">
<text class="t" x="686" y="1344" font-size="50" textLength="579" lengthAdjust="spacingAndGlyphs">VERGERS PARTICULIERS</text>
</g>
</svg>
